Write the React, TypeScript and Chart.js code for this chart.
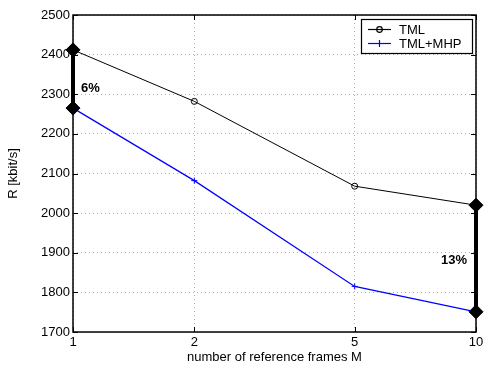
import React, { useEffect, useRef } from 'react';
import { Chart, registerables } from 'chart.js';
Chart.register(...registerables);

const frames = [1, 2, 5, 10];
const tml = [2412, 2282, 2068, 2020];
const tmlMhp = [2265, 2082, 1815, 1751];
const xTicks = [1, 2, 5, 10];
const yTicks = [1700, 1800, 1900, 2000, 2100, 2200, 2300, 2400, 2500];
const gainLabels = ['6%', '13%'];
const gainLabelY = [2315, 1880];

const FONT = '"Liberation Sans", Arial, Helvetica, sans-serif';

const overlay = {
  id: 'overlay',
  beforeDatasetsDraw(chart: any) {
    const { ctx, chartArea: a, scales } = chart;
    const x = scales.x, y = scales.y;
    ctx.save();
    ctx.strokeStyle = '#000';
    ctx.lineWidth = 1;
    yTicks.forEach((v) => {
      const py = Math.round(y.getPixelForValue(v)) + 0.5;
      ctx.beginPath();
      ctx.moveTo(a.left, py); ctx.lineTo(a.left + 5, py);
      ctx.moveTo(a.right, py); ctx.lineTo(a.right - 5, py);
      ctx.stroke();
    });
    xTicks.forEach((v) => {
      const px = Math.round(x.getPixelForValue(v)) + 0.5;
      ctx.beginPath();
      ctx.moveTo(px, a.bottom); ctx.lineTo(px, a.bottom - 5);
      ctx.moveTo(px, a.top); ctx.lineTo(px, a.top + 5);
      ctx.stroke();
    });
    ctx.lineWidth = 1.5;
    ctx.strokeRect(a.left, a.top, a.right - a.left, a.bottom - a.top);
    ctx.restore();
  },
  afterDatasetsDraw(chart: any) {
    const { ctx, chartArea: a, scales } = chart;
    const x = scales.x, y = scales.y;
    ctx.save();
    ctx.fillStyle = '#000';
    ctx.font = 'bold 13px ' + FONT;
    ctx.textBaseline = 'middle';
    ctx.textAlign = 'left';
    ctx.fillText(gainLabels[0], x.getPixelForValue(frames[0]) + 8, y.getPixelForValue(gainLabelY[0]));
    ctx.textAlign = 'right';
    ctx.fillText(gainLabels[1], x.getPixelForValue(frames[3]) - 9, y.getPixelForValue(gainLabelY[1]));

    const lx = 361, ly = 19, lw = 111, lh = 34;
    ctx.fillStyle = '#fff';
    ctx.fillRect(lx, ly, lw, lh);
    ctx.strokeStyle = '#000';
    ctx.lineWidth = 1.2;
    ctx.strokeRect(lx + 0.5, ly + 0.5, lw, lh);
    ctx.font = '13px ' + FONT;
    ctx.textAlign = 'left';
    const rows = [
      { label: 'TML', color: '#000000', marker: 'circle', yy: ly + 10 },
      { label: 'TML+MHP', color: '#0000ff', marker: 'cross', yy: ly + 24 },
    ];
    rows.forEach((r) => {
      ctx.strokeStyle = r.color;
      ctx.lineWidth = 1.2;
      ctx.beginPath();
      ctx.moveTo(lx + 7, r.yy + 0.5); ctx.lineTo(lx + 30, r.yy + 0.5);
      ctx.stroke();
      const cx = lx + 18.5;
      ctx.beginPath();
      if (r.marker === 'circle') {
        ctx.arc(cx, r.yy + 0.5, 2.8, 0, Math.PI * 2);
      } else {
        ctx.moveTo(cx, r.yy - 3); ctx.lineTo(cx, r.yy + 4);
      }
      ctx.stroke();
      ctx.fillStyle = '#000';
      ctx.fillText(r.label, lx + 38, r.yy + 1);
    });

    ctx.font = '13px ' + FONT;
    ctx.fillStyle = '#000';
    ctx.textAlign = 'center';
    ctx.textBaseline = 'middle';
    ctx.fillText('number of reference frames M', (a.left + a.right) / 2, 357);
    ctx.save();
    ctx.translate(13, (a.top + a.bottom) / 2);
    ctx.rotate(-Math.PI / 2);
    ctx.fillText('R [kbit/s]', 0, 0);
    ctx.restore();
    ctx.restore();
  },
};

export default function App() {
  const ref = useRef<HTMLCanvasElement>(null);
  useEffect(() => {
    if (!ref.current) return;
    const diamond = {
      borderColor: '#000',
      backgroundColor: '#000',
      borderWidth: 4,
      pointStyle: 'rectRot',
      pointRadius: 7,
      pointBorderWidth: 1,
      showLine: true,
    };
    const chart = new Chart(ref.current, {
      type: 'scatter',
      data: {
        datasets: [
          { ...diamond, label: 'gain1', data: [{ x: frames[0], y: tml[0] }, { x: frames[0], y: tmlMhp[0] }] } as any,
          { ...diamond, label: 'gain2', data: [{ x: frames[3], y: tml[3] }, { x: frames[3], y: tmlMhp[3] }] } as any,
          {
            label: 'TML',
            data: frames.map((f, i) => ({ x: f, y: tml[i] })),
            showLine: true,
            borderColor: '#000',
            backgroundColor: 'rgba(0,0,0,0)',
            borderWidth: 1,
            pointStyle: 'circle',
            pointRadius: 3,
            pointBorderWidth: 1,
          },
          {
            label: 'TML+MHP',
            data: frames.map((f, i) => ({ x: f, y: tmlMhp[i] })),
            showLine: true,
            borderColor: '#0000ff',
            backgroundColor: '#0000ff',
            borderWidth: 1.2,
            pointStyle: 'cross',
            pointRadius: 3,
            pointBorderWidth: 1,
          },
        ],
      },
      options: {
        responsive: false,
        animation: false,
        clip: false as any,
        layout: { padding: { left: 0, top: 15, right: 15, bottom: 0 } },
        plugins: { legend: { display: false }, tooltip: { enabled: false } },
        scales: {
          x: {
            type: 'logarithmic',
            min: 1,
            max: 10,
            afterBuildTicks: (s: any) => { s.ticks = xTicks.map((v) => ({ value: v })); },
            afterFit: (s: any) => { s.height = 34; },
            ticks: {
              color: '#000',
              font: { family: FONT, size: 13 },
              padding: 3,
              maxRotation: 0,
              autoSkip: false,
              callback: (v: any) => String(v),
            },
            grid: { color: '#b0b0b0', lineWidth: 1, drawTicks: false },
            border: { display: false, dash: [1, 3] },
          },
          y: {
            min: 1700,
            max: 2500,
            afterBuildTicks: (s: any) => { s.ticks = yTicks.map((v) => ({ value: v })); },
            afterFit: (s: any) => { s.width = 73; },
            ticks: {
              color: '#000',
              font: { family: FONT, size: 13 },
              padding: 3,
              autoSkip: false,
              callback: (v: any) => String(v),
            },
            grid: { color: '#b0b0b0', lineWidth: 1, drawTicks: false },
            border: { display: false, dash: [1, 3] },
          },
        },
      },
      plugins: [overlay],
    });
    return () => chart.destroy();
  }, []);
  return (
    <div style={{ position: 'fixed', left: 0, top: 0, width: 491, height: 366, background: '#fff' }}>
      <canvas ref={ref} width={491} height={366} style={{ width: 491, height: 366 }} />
    </div>
  );
}
